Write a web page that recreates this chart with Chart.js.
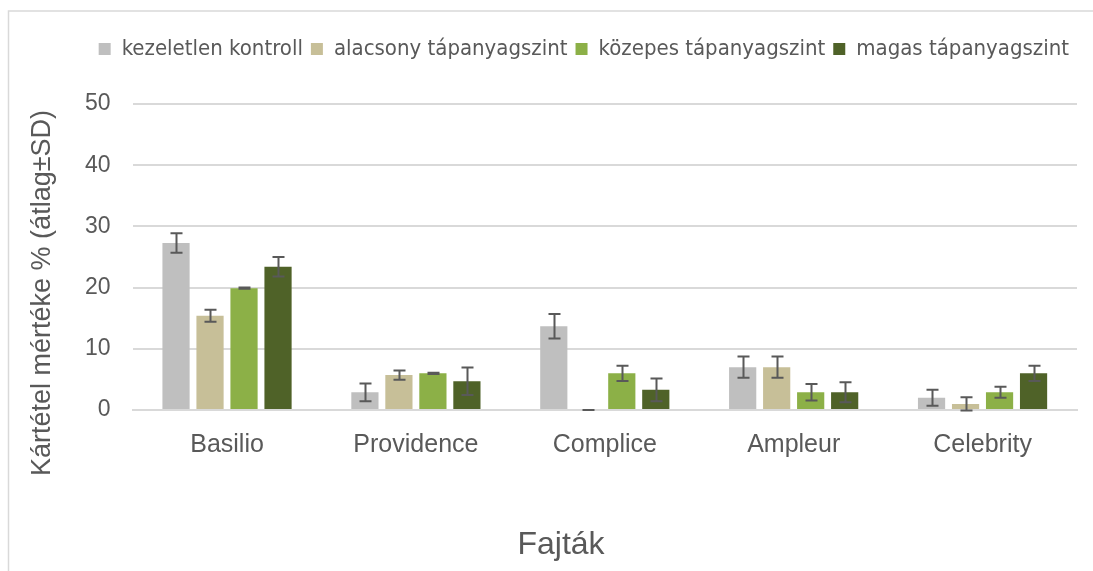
<!DOCTYPE html>
<html>
<head>
<meta charset="utf-8">
<script src="https://cdn.jsdelivr.net/npm/chart.js@4"></script>
<style>
html,body{margin:0;padding:0;background:#fff;}
canvas{display:block;}
</style>
</head>
<body>
<canvas id="c" width="1093" height="571"></canvas>
<script>
const categories = ['Basilio', 'Providence', 'Complice', 'Ampleur', 'Celebrity'];
const seriesNames = ['kezeletlen kontroll', 'alacsony tápanyagszint', 'közepes tápanyagszint', 'magas tápanyagszint'];
const kontroll = [27.3, 2.9, 13.7, 7.0, 2.0];
const kontrollSD = [1.6, 1.45, 2.0, 1.75, 1.3];
const alacsony = [15.4, 5.7, 0, 7.0, 1.0];
const alacsonySD = [1.0, 0.75, 0, 1.75, 1.1];
const kozepes = [19.9, 6.0, 6.0, 2.9, 2.9];
const kozepesSD = [0.1, 0.1, 1.25, 1.35, 0.9];
const magas = [23.4, 4.7, 3.3, 2.9, 6.0];
const magasSD = [1.6, 2.25, 1.85, 1.65, 1.25];
const yTicks = [0, 10, 20, 30, 40, 50];
const yTitle = 'Kártétel mértéke % (átlag±SD)';
const xTitle = 'Fajták';

const colors = ['#bfbfbf', '#c7bf98', '#8cb047', '#4f6228'];
const values = [kontroll, alacsony, kozepes, magas];
const sds = [kontrollSD, alacsonySD, kozepesSD, magasSD];
const textColor = '#595959';
const sansFont = '"Liberation Sans", Arial, sans-serif';

const errorBars = {
  id: 'errorBars',
  afterDatasetsDraw(chart) {
    const ctx = chart.ctx;
    const y = chart.scales.y;
    ctx.save();
    ctx.strokeStyle = '#595959';
    ctx.lineWidth = 2;
    chart.data.datasets.forEach((ds, i) => {
      const meta = chart.getDatasetMeta(i);
      meta.data.forEach((bar, j) => {
        const v = ds.data[j], sd = ds.sd[j];
        const yt = y.getPixelForValue(v + sd);
        const yb = y.getPixelForValue(Math.max(v - sd, -0.2));
        const x = Math.round(bar.x) + 0.5;
        const hw = 6;
        ctx.beginPath();
        ctx.moveTo(x, yt); ctx.lineTo(x, yb);
        ctx.moveTo(x - hw, yt); ctx.lineTo(x + hw, yt);
        ctx.moveTo(x - hw, yb); ctx.lineTo(x + hw, yb);
        ctx.stroke();
      });
    });
    ctx.restore();
  }
};

const decor = {
  id: 'decor',
  beforeInit(chart) {
    const origFit = chart.legend.fit;
    chart.legend.fit = function () {
      origFit.bind(chart.legend)();
      this.height += 34;
    };
  },
  afterDraw(chart) {
    const ctx = chart.ctx;
    ctx.save();
    ctx.strokeStyle = '#d9d9d9';
    ctx.lineWidth = 1.5;
    ctx.beginPath();
    ctx.moveTo(8.5, 571); ctx.lineTo(8.5, 11); ctx.lineTo(1093, 11);
    ctx.stroke();
    ctx.fillStyle = textColor;
    ctx.textAlign = 'center';
    ctx.textBaseline = 'alphabetic';
    ctx.font = '32px ' + sansFont;
    ctx.fillText(xTitle, 561, 554);
    ctx.translate(43, 293);
    ctx.rotate(-Math.PI / 2);
    ctx.textBaseline = 'middle';
    ctx.font = '27px ' + sansFont;
    ctx.fillText(yTitle, 0, 0);
    ctx.restore();
  }
};

new Chart(document.getElementById('c'), {
  type: 'bar',
  data: {
    labels: categories,
    datasets: seriesNames.map((n, i) => ({
      label: n,
      data: values[i],
      sd: sds[i],
      backgroundColor: colors[i],
      borderWidth: 0,
      categoryPercentage: 0.72,
      barPercentage: 0.8
    }))
  },
  options: {
    responsive: false,
    animation: false,
    devicePixelRatio: 1,
    layout: { padding: { left: 63, right: 16, top: 30, bottom: 91 } },
    plugins: {
      legend: {
        position: 'top',
        align: 'end',
        labels: {
          boxWidth: 12, boxHeight: 12,
          color: textColor,
          padding: 8,
          font: { family: '"DejaVu Sans Condensed", "Liberation Sans Narrow", sans-serif', size: 22 }
        }
      },
      tooltip: { enabled: false }
    },
    scales: {
      x: {
        grid: { display: false, drawTicks: false },
        border: { color: '#d9d9d9', width: 2 },
        ticks: { color: textColor, padding: 20, font: { family: sansFont, size: 25 } }
      },
      y: {
        min: 0, max: 50,
        afterBuildTicks(axis) { axis.ticks = yTicks.map(v => ({ value: v })); },
        grid: { color: '#d9d9d9', lineWidth: 2, drawTicks: false },
        border: { display: false },
        ticks: { color: textColor, padding: 22, font: { family: sansFont, size: 23 } }
      }
    }
  },
  plugins: [errorBars, decor]
});
</script>
</body>
</html>
